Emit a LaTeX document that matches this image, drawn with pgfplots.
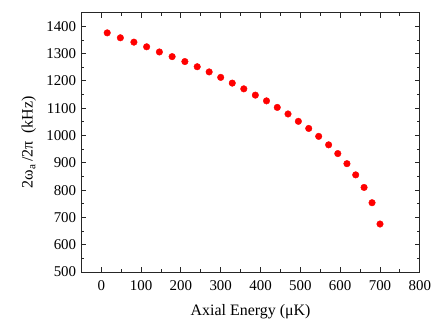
\documentclass[border=0pt]{standalone}
\usepackage{fontspec}
\setmainfont{Liberation Serif}
\usepackage{pgfplots}
\pgfplotsset{compat=1.18}
\begin{document}
\fontsize{15}{17}\selectfont
\begin{tikzpicture}[x=1pt,y=1pt]
\begin{axis}[
  at={(0,0)}, anchor=south west,
  scale only axis, width=340pt, height=260.6pt,
  xmin=-50, xmax=800, ymin=500, ymax=1450,
  xtick={0,100,...,800}, ytick={500,600,...,1400},
  minor x tick num=1, minor y tick num=1,
  tick align=inside, tick pos=both,
  major tick length=5pt, minor tick length=3pt,
  axis line style={line width=0.9pt, black!85},
  every tick/.style={line width=0.9pt, black!85},
  /pgf/number format/assume math mode=true,
  /pgf/number format/1000 sep={},
  ticklabel style={font=\fontsize{15}{17}\selectfont},
  xticklabel style={yshift=-3pt},
  label style={font=\fontsize{16}{18}\selectfont},
  xlabel={Axial Energy (μK)},
  ylabel={2ω\textsubscript{a}\,/2π\ \ (kHz)},
  xlabel style={yshift=-4pt},
  ylabel style={yshift=0pt},
]
\addplot[only marks, mark=*, mark size=3.3pt, color=red, mark options={draw=red, fill=red}] coordinates {
(15,1376) (48,1358) (82,1342) (114,1325) (146,1306) (178,1289) (210,1271)
(241,1252) (271,1233) (300,1213) (329,1192) (358,1171) (387,1148) (415,1127)
(442,1103) (469,1079) (495,1052) (521,1026) (546,997) (571,966) (594,934)
(617,897) (639,856) (660,810) (680,754) (700,676)
};
\end{axis}
\path[use as bounding box] (-81.7,-61.7) rectangle (354.3,273.3);
\end{tikzpicture}
\end{document}
